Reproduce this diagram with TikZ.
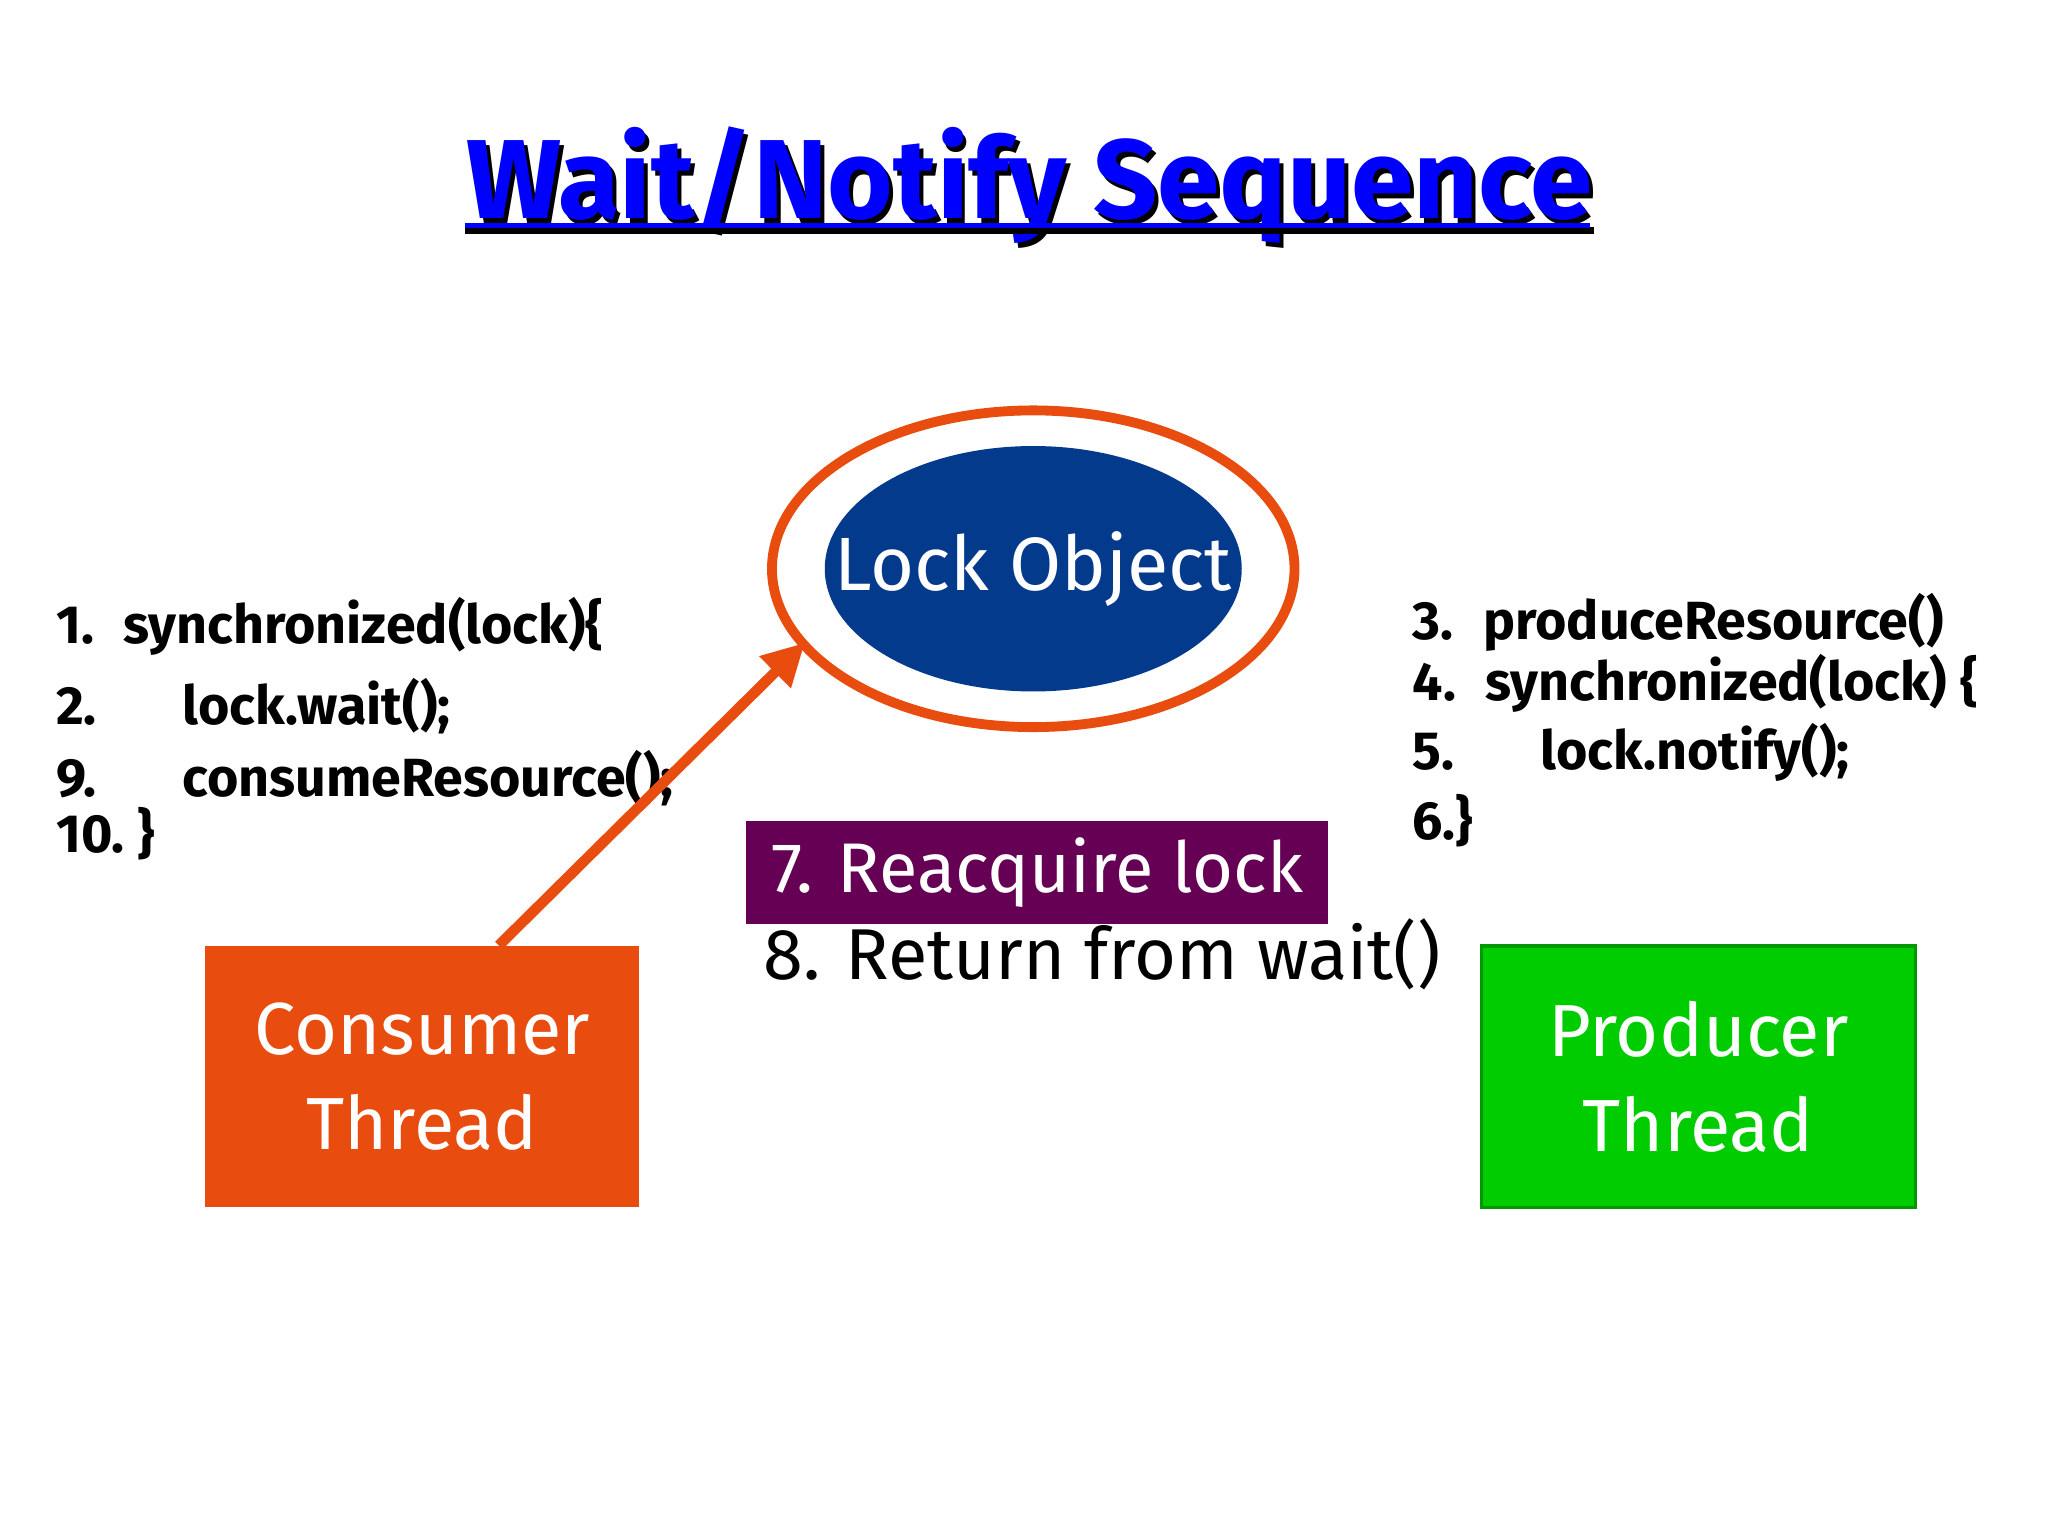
\documentclass[tikz,border=0pt]{standalone}
\usepackage{fontspec}
\setmainfont{Fira Sans}
\usetikzlibrary{positioning,arrows.meta,shapes.geometric}
\definecolor{lockblue}{HTML}{033A8C}
\definecolor{lockorange}{HTML}{E84C0E}
\definecolor{prodgreen}{HTML}{00CC00}
\definecolor{reacq}{HTML}{660055}
\tikzset{
  code/.style={anchor=west, font=\fontsize{15.3}{18}\selectfont\bfseries, inner sep=0pt},
  thread/.style={rectangle, minimum width={329*0.0132cm}, minimum height={198*0.0132cm}, text=white,
    align=center, font=\fontsize{21}{27}\selectfont}
}
\begin{document}
\begin{tikzpicture}[x=0.0132cm, y=-0.0132cm]
  \useasboundingbox (0,0) rectangle (1552,1164);

  % title
  \node [text=black, font=\fontsize{32}{36}\selectfont\bfseries] at (783,144) {Wait/Notify Sequence};
  \node (title) [text=blue, font=\fontsize{32}{36}\selectfont\bfseries] at (780,140) {Wait/Notify Sequence};
  \draw [line width=2pt] (352,175) -- (1208,175);
  \draw [blue, line width=1.5pt] (352,171) -- (1205,171);

  % lock object
  \draw [lockorange, line width=2.8pt] (783,431) ellipse [x radius=198, y radius=120];
  \fill [lockblue] (783,431) ellipse [x radius=158, y radius=93];
  \node (lock) [text=white, inner sep=0pt, font=\fontsize{21.5}{26}\selectfont] at (783,431) {Lock Object};
  \coordinate (ringsw) at (610,487);

  % consumer code
  \node (c1) [code] at (42,475) {1.~ synchronized(lock)\{};
  \node (c2) [code] at (42,535) {2.\hspace{1.6em}lock.wait();};
  \node (c9) [code] at (42,590) {9.\hspace{1.6em}consumeResource();};
  \node (c10) [code] at (42,632) {10.~\}};

  % producer code
  \node (p3) [code] at (1070,472) {3.~ produceResource()};
  \node (p4) [code] at (1070,518) {4.~ synchronized(lock) \{};
  \node (p5) [code] at (1070,570) {5.\hspace{1.6em}lock.notify();};
  \node (p6) [code] at (1070,622) {6.\}};

  % threads
  \node (consumer) [thread, fill=lockorange] at (320,816) {Consumer\\Thread};
  \node (producer) [thread, fill=prodgreen, draw=green!60!black, line width=1pt] at (1287,816) {Producer\\Thread};

  \draw [lockorange, line width=3pt, -{Triangle[length=12pt,width=12pt]}] (consumer.north -| 378,0) -- (ringsw);

  % steps
  \node (step7) [fill=reacq, text=white, minimum width={441*0.0132cm}, minimum height={78*0.0132cm},
    font=\fontsize{20}{26}\selectfont] at (786,661) {7. Reacquire lock};
  \node (step8) [anchor=west, inner sep=0pt, font=\fontsize{20.5}{26}\selectfont] at (578,723) {8. Return from wait()};
\end{tikzpicture}
\end{document}
